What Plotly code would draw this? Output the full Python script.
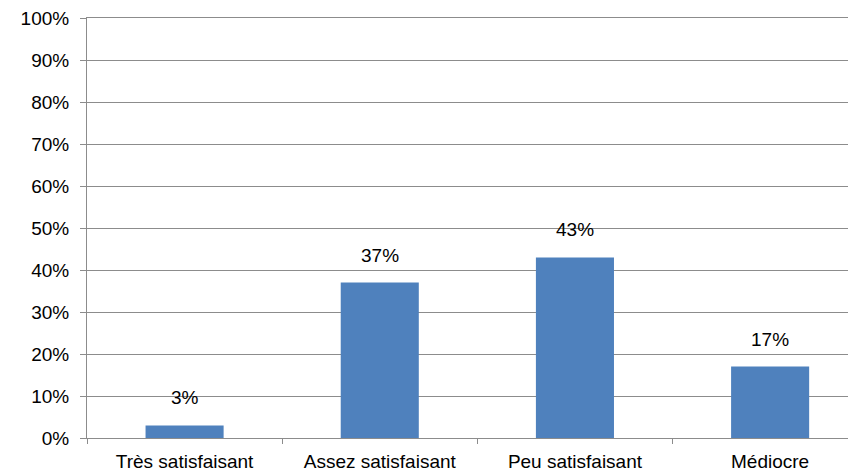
import plotly.graph_objects as go

categories = ["Très satisfaisant", "Assez satisfaisant", "Peu satisfaisant", "Médiocre"]
values = [0.03, 0.37, 0.43, 0.17]
labels = ["3%", "37%", "43%", "17%"]

grey = "#8c8c8c"
font = dict(family="Liberation Sans, Arial, sans-serif", size=19, color="#000000")

fig = go.Figure()
fig.add_trace(go.Bar(
    x=categories, y=values, width=0.4,
    marker=dict(color="#4F81BD", line=dict(width=0)),
    hoverinfo="skip",
))

for c, v, t in zip(categories, values, labels):
    fig.add_annotation(x=c, y=v, text=t, showarrow=False, yanchor="bottom",
                       yshift=15, font=font)

# page body has an 8px margin, so the figure is sized/offset to compensate
fig.update_layout(
    width=848, height=467,
    margin=dict(l=79, r=0, t=7, b=37, pad=0),
    paper_bgcolor="white", plot_bgcolor="white",
    font=font, showlegend=False,
)
fig.update_xaxes(
    type="category", range=[-0.5, 3.44],
    showline=True, linecolor=grey, linewidth=1, mirror=True,
    ticks="outside", tickson="boundaries", ticklen=5, tickcolor=grey,
    showgrid=False, tickfont=font, ticklabelstandoff=6,
)
fig.update_yaxes(
    range=[0, 1], dtick=0.1, tickformat=".0%",
    showline=True, linecolor=grey, linewidth=1,
    ticks="outside", ticklen=6, tickcolor=grey,
    showgrid=True, gridcolor=grey, gridwidth=1,
    zeroline=False, tickfont=font, ticklabelstandoff=7,
    ticklabeloverflow="allow",
)

fig.write_html("out.html")
